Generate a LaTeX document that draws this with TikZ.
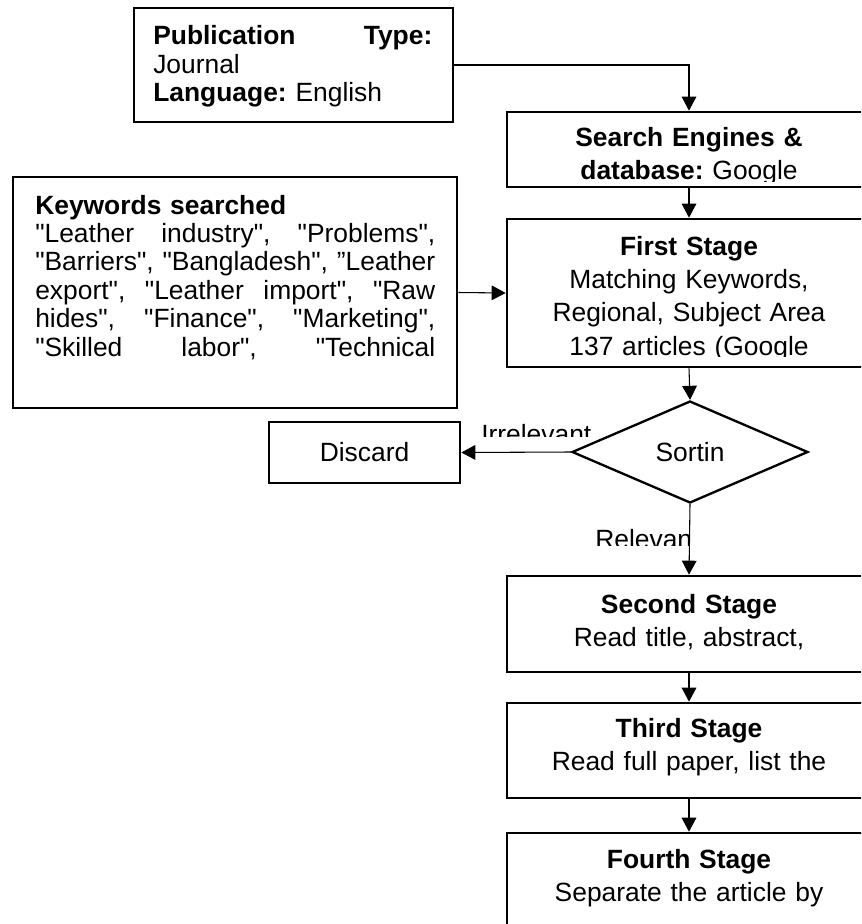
\documentclass[tikz,border=0pt]{standalone}
\usepackage{fontspec}
\setmainfont{Liberation Sans}[Ligatures=TeXOff]
\usetikzlibrary{arrows.meta,shapes.geometric}
\frenchspacing
\tikzset{
  flow/.style={-{Triangle[length=10.5pt,width=11pt]}, line width=0.8pt, draw=black},
  infobox/.style={
    draw=black, line width=2pt, fill=white, inner sep=0pt
  },
  stagebox/.style={
    draw=black, line width=2pt, fill=white, inner sep=0pt,
    minimum width=273pt, minimum height=#1
  },
  stagebox/.default=72pt,
  decision/.style={
    diamond, draw=black, line width=1.75pt, fill=white,
    aspect=2.3, inner sep=0pt,
    minimum width=177pt, minimum height=76.5pt
  },
  lefttext/.style={
    inner sep=0pt, align=left, anchor=base west,
    font=\fontsize{19.8}{21.3}\selectfont
  },
  stagetext/.style={
    inner sep=0pt, align=center, anchor=base, text width=330pt,
    font=\fontsize{19.8}{25}\selectfont
  },
  labeltext/.style={
    inner sep=0pt, anchor=base west, font=\fontsize{19.8}{24}\selectfont
  }
}
% justified line: spaces stretched to the given width
\newcommand{\fullline}[2][300pt]{\makebox[#1][s]{\spaceskip=0.28em plus 1fil\relax #2}}

\begin{document}
\begin{tikzpicture}[x=0.75pt, y=-0.75pt, font=\fontsize{19.8}{24}\selectfont]

\useasboundingbox (0,0) rectangle (861,924);
\clip (0,0) rectangle (861,924);

%--------------------------------------------------
% Left boxes
%--------------------------------------------------
\node[infobox, minimum width=239.25pt, minimum height=85.5pt] (pub) at (293.5,65) {};

\node[lefttext, text width=209.25pt] (pubtext) at (153,45)
{\fullline[209.25pt]{\textbf{Publication Type:}}\\
Journal\\
\textbf{Language:} English};

\node[infobox, minimum width=333pt, minimum height=173.25pt] (keywords) at (235,292.5) {};

\node[lefttext, text width=300pt] (keytext) at (35,214)
{\textbf{Keywords searched}\\
\fullline{"Leather industry", "Problems",}\\
\fullline{"Barriers", "Bangladesh", ”Leather}\\
\fullline{export", "Leather import", "Raw}\\
\fullline{hides", "Finance", "Marketing",}\\
\fullline{"Skilled labor", "Technical}};

\node[infobox, minimum width=143.25pt, minimum height=45.75pt] (discard) at (364.5,452.5) {Discard};

%--------------------------------------------------
% Stage boxes
%--------------------------------------------------
\node[stagebox=56.25pt] (search) at (689,149.5) {};
\node[stagebox=111pt] (first) at (689,293) {};
\node[decision] (sort) at (690,452) {Sortin};
\node[stagebox=72pt] (second) at (689,624) {};
\node[stagebox=71.25pt] (third) at (689,750.5) {};
\node[stagebox=95.25pt] (fourth) at (689,896.5) {};

\begin{scope}
  \clip (search.north west) rectangle ([yshift=5.25pt]search.south east);
  \node[stagetext] (searchtext) at (689,146)
  {\textbf{Search Engines \&}\\\textbf{database:} Google};
\end{scope}

\begin{scope}
  \clip (first.north west) rectangle ([yshift=9pt]first.south east);
  \node[stagetext] (firsttext) at (689,255)
  {\textbf{First Stage}\\Matching Keywords,\\Regional, Subject Area\\137 articles (Google};
\end{scope}

\node[stagetext] (secondtext) at (689,613) {\textbf{Second Stage}\\Read title, abstract,};
\node[stagetext] (thirdtext) at (689,737) {\textbf{Third Stage}\\Read full paper, list the};
\node[stagetext] (fourthtext) at (689,868) {\textbf{Fourth Stage}\\Separate the article by};

%--------------------------------------------------
% Branch labels
%--------------------------------------------------
\begin{scope}
  \clip (470,400) rectangle (600,436);
  \node[labeltext] (irrel) at (481,443) {Irrelevant};
\end{scope}

\begin{scope}
  \clip (580,515) rectangle (689,545);
  \node[labeltext] (rel) at (595,548) {Relevan};
\end{scope}

%--------------------------------------------------
% Connectors
%--------------------------------------------------
\draw[flow] (pub.east) -| (search.north);
\draw[flow] (search.south) -- (first.north);
\draw[flow] (keywords.east) -- (first.west);
\draw[flow] (first.south) -- (sort.north);
\draw[flow] (sort.west) -- (discard.east);
\draw[flow] (sort.south) -- (second.north);
\draw[flow] (second.south) -- (third.north);
\draw[flow] (third.south) -- (fourth.north);

\end{tikzpicture}
\end{document}
